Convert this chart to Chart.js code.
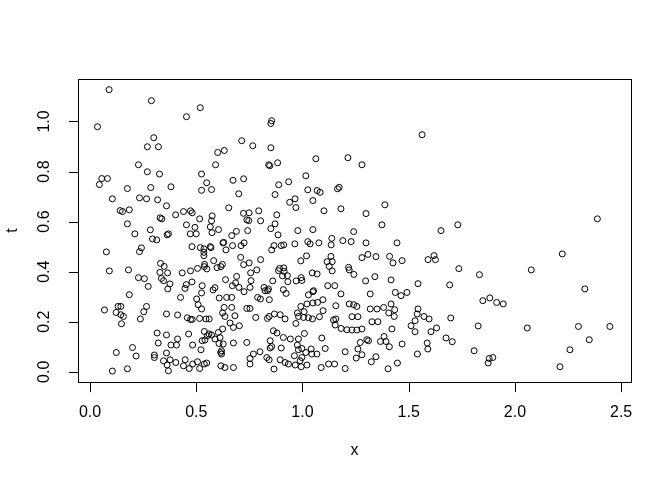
<!DOCTYPE html>
<html>
<head>
<meta charset="utf-8">
<script src="https://cdn.jsdelivr.net/npm/chart.js@4/dist/chart.umd.min.js"></script>
<style>
  html, body { margin: 0; padding: 0; background: #fff; }
  #wrap { width: 672px; height: 480px; }
</style>
</head>
<body>
<div id="wrap"><canvas id="myChart" width="672" height="480"></canvas></div>
<script>
// --- 1. Data ---
const xVals = [
  // upper left
  0.090,0.289,0.519,0.454,0.035,0.300,0.270,0.322,0.601,0.632,0.228,0.270,
  0.327,0.591,0.525,0.549,0.055,0.082,0.044,0.176,0.286,0.381,0.525,0.572,
  // middle left
  0.105,0.233,0.266,0.318,0.360,0.142,0.153,0.185,0.330,0.338,0.403,0.440,
  0.473,0.481,0.516,0.575,0.572,0.176,0.454,0.494,0.566,0.605,0.284,0.211,
  0.363,0.369,0.472,0.500,0.574,0.294,0.314,0.480,0.519,0.536,0.569,0.566,
  0.626,0.536,0.536,0.242,0.233,0.077,0.582,0.539,0.538,0.506,0.550,0.598,
  0.616,0.473,0.434,0.332,0.349,0.329,0.365,0.336,0.091,0.181,0.228,0.256,
  0.274,0.376,0.346,0.453,0.480,0.528,0.588,0.447,0.366,
  // lower left
  0.185,0.426,0.502,0.525,0.579,0.608,0.509,0.525,0.068,0.132,0.145,0.123,
  0.145,0.157,0.148,0.253,0.266,0.237,0.360,0.412,0.458,0.473,0.481,0.516,
  0.546,0.561,0.624,0.316,0.360,0.412,0.464,0.321,0.381,0.407,0.483,0.538,
  0.552,0.560,0.572,0.541,0.528,0.588,0.612,0.604,0.624,0.607,0.200,0.124,
  0.217,0.303,0.303,0.360,0.346,0.377,0.404,0.363,0.369,0.448,0.440,0.467,
  0.483,0.506,0.516,0.538,0.549,0.522,0.615,0.616,0.105,0.176,
  // upper middle
  0.855,0.851,0.714,0.766,0.851,1.063,1.214,1.280,0.841,0.846,
  0.883,1.016,0.673,0.723,0.888,0.935,1.025,1.069,1.165,1.173,
  // middle
  1.083,0.700,0.871,0.940,0.965,0.969,1.049,0.653,1.101,1.181,1.299,0.722,
  0.749,0.794,0.879,0.738,0.747,0.803,0.689,0.667,0.742,0.851,0.871,0.885,
  0.978,1.049,1.241,1.138,1.190,1.229,1.299,0.629,0.640,0.671,0.711,0.725,
  0.855,0.866,0.900,0.912,0.964,1.025,1.036,1.077,1.135,0.709,0.723,0.749,
  0.803,0.785,0.756,0.992,1.019,0.623,0.638,0.690,0.685,0.670,0.701,0.753,
  0.758,0.819,0.840,0.860,0.887,0.892,0.912,0.914,0.906,0.929,0.931,0.970,
  0.997,0.994,1.046,1.069,1.116,1.134,1.140,1.126,1.140,1.217,1.220,1.242,
  1.280,1.308,1.297,1.119,1.152,1.052,
  // right side, upper
  1.563,1.388,1.374,1.652,1.731,1.445,1.346,1.410,1.426,1.469,1.591,1.619,
  1.626,1.736,1.833,1.341,1.417,1.544,1.693,2.388,2.223,2.077,2.329,2.058,
  2.299,2.447,2.350,2.259,2.212,
  // right side, lower
  1.437,1.464,1.492,1.849,1.882,1.914,1.945,1.319,1.319,1.351,1.382,1.417,
  1.406,1.434,1.432,1.544,1.540,1.572,1.596,1.530,1.511,1.530,1.605,1.631,
  1.698,1.827,1.327,1.355,1.421,1.384,1.367,1.393,1.409,1.469,1.311,1.676,
  1.705,1.587,1.590,1.541,1.808,1.346,1.324,1.447,1.403,1.879,1.896,1.874,
  // lower middle
  0.725,0.824,0.836,0.910,0.923,1.028,1.049,1.181,0.643,0.667,0.789,0.802,
  0.844,1.096,1.071,1.049,1.021,0.992,1.220,1.241,1.256,1.157,0.631,0.667,
  0.738,0.753,0.976,1.008,1.097,1.080,1.047,1.028,1.005,0.981,0.868,0.895,
  0.918,0.843,0.835,0.780,0.682,0.635,0.659,0.675,0.703,0.969,1.157,1.146,
  1.154,1.182,1.209,1.233,1.261,1.233,1.256,1.280,1.303,1.272,0.863,0.880,
  0.910,0.943,0.981,1.009,1.091,0.848,0.855,0.848,0.900,0.976,0.981,0.997,
  1.041,1.016,1.107,1.201,1.261,1.280,1.253,0.627,0.675,0.738,0.619,0.619,
  0.753,0.769,0.800,0.753,0.832,0.843,0.866,0.895,0.918,0.934,0.962,0.966,
  0.989,0.997,1.021,0.994,1.044,1.068,1.088,1.123,1.151,1.201,0.635,0.675
];

const tVals = [
  // upper left
  1.127,1.083,1.055,1.019,0.979,0.935,0.899,0.899,0.876,0.884,0.827,0.799,
  0.790,0.827,0.790,0.755,0.772,0.772,0.748,0.732,0.736,0.739,0.725,0.728,
  // middle left
  0.691,0.695,0.691,0.687,0.663,0.644,0.640,0.647,0.615,0.611,0.627,0.640,
  0.643,0.635,0.611,0.623,0.603,0.591,0.587,0.577,0.579,0.568,0.567,0.551,
  0.547,0.551,0.551,0.551,0.556,0.531,0.527,0.500,0.496,0.491,0.496,0.500,
  0.515,0.477,0.464,0.495,0.480,0.479,0.444,0.429,0.420,0.413,0.411,0.416,
  0.420,0.403,0.395,0.433,0.421,0.397,0.395,0.373,0.403,0.407,0.376,0.372,
  0.341,0.351,0.364,0.348,0.359,0.344,0.336,0.333,0.331,
  // lower left
  0.308,0.297,0.291,0.315,0.327,0.295,0.268,0.251,0.247,0.261,0.261,0.237,
  0.228,0.221,0.192,0.240,0.261,0.211,0.231,0.227,0.216,0.209,0.209,0.213,
  0.211,0.211,0.235,0.155,0.147,0.131,0.151,0.115,0.107,0.107,0.107,0.161,
  0.144,0.151,0.147,0.127,0.124,0.131,0.137,0.157,0.171,0.113,0.097,0.077,
  0.063,0.067,0.057,0.075,0.044,0.048,0.037,0.027,0.004,0.048,0.024,0.013,
  0.031,0.040,0.013,0.031,0.035,0.088,0.077,0.024,0.003,0.012,
  // upper middle
  1.003,0.992,0.923,0.903,0.895,0.851,0.855,0.827,0.827,0.823,
  0.835,0.783,0.765,0.771,0.747,0.759,0.727,0.724,0.731,0.737,
  // middle
  0.717,0.711,0.708,0.677,0.691,0.656,0.684,0.655,0.643,0.651,0.632,0.633,
  0.635,0.643,0.627,0.607,0.604,0.603,0.561,0.544,0.564,0.572,0.591,0.547,
  0.564,0.568,0.560,0.533,0.524,0.520,0.515,0.517,0.487,0.504,0.504,0.515,
  0.487,0.504,0.504,0.507,0.511,0.520,0.511,0.515,0.507,0.457,0.428,0.435,
  0.448,0.407,0.395,0.443,0.463,0.429,0.368,0.381,0.355,0.344,0.337,0.337,
  0.364,0.337,0.331,0.363,0.404,0.413,0.415,0.401,0.383,0.384,0.360,0.363,
  0.365,0.376,0.395,0.391,0.440,0.461,0.440,0.421,0.403,0.417,0.407,0.389,
  0.456,0.469,0.363,0.344,0.344,0.324,
  // right side, upper
  0.947,0.667,0.587,0.564,0.587,0.515,0.460,0.461,0.435,0.444,0.448,0.464,
  0.448,0.412,0.388,0.380,0.367,0.352,0.347,0.611,0.471,0.407,0.331,0.175,
  0.181,0.181,0.128,0.088,0.020,
  // right side, lower
  0.317,0.304,0.317,0.284,0.295,0.277,0.271,0.311,0.251,0.251,0.257,0.271,
  0.235,0.248,0.221,0.251,0.231,0.221,0.211,0.204,0.184,0.160,0.160,0.175,
  0.215,0.183,0.200,0.200,0.171,0.141,0.121,0.121,0.100,0.111,0.124,0.135,
  0.120,0.115,0.091,0.071,0.084,0.060,0.040,0.035,0.012,0.053,0.057,0.035,
  // lower middle
  0.320,0.324,0.324,0.328,0.313,0.307,0.320,0.311,0.297,0.297,0.297,0.291,
  0.288,0.288,0.277,0.275,0.271,0.261,0.271,0.268,0.261,0.264,0.257,0.257,
  0.253,0.253,0.235,0.240,0.244,0.220,0.211,0.216,0.217,0.221,0.231,0.228,
  0.211,0.221,0.213,0.217,0.224,0.221,0.195,0.177,0.184,0.193,0.211,0.207,
  0.187,0.173,0.168,0.220,0.220,0.167,0.167,0.171,0.128,0.117,0.164,0.155,
  0.137,0.131,0.131,0.153,0.135,0.124,0.101,0.095,0.095,0.107,0.088,0.093,
  0.091,0.077,0.093,0.080,0.091,0.068,0.055,0.111,0.115,0.117,0.084,0.071,
  0.053,0.071,0.080,0.031,0.057,0.048,0.011,0.048,0.037,0.031,0.064,0.027,
  0.044,0.057,0.027,0.020,0.071,0.071,0.017,0.031,0.031,0.013,0.017,0.017
];

const xTicks = [0, 0.5, 1.0, 1.5, 2.0, 2.5];
const tTicks = [0, 0.2, 0.4, 0.6, 0.8, 1.0];
const xTitle = 'x';
const yTitle = 't';

// --- 2. R-like look ---
const LINE = 19.2;           // one margin line in px (12pt @ 96dpi)
const FONT = '16px "Liberation Sans", Arial, sans-serif';

// frame, ticks, labels drawn like base R graphics
const rAxes = {
  id: 'rAxes',
  afterDraw(chart) {
    const ctx = chart.ctx;
    const area = chart.chartArea;
    const xs = chart.scales.x;
    const ys = chart.scales.y;
    ctx.save();
    ctx.strokeStyle = '#000';
    ctx.fillStyle = '#000';
    ctx.lineWidth = 1;

    // box
    ctx.strokeRect(Math.round(area.left) + 0.5, Math.round(area.top) + 0.5,
                   Math.round(area.right - area.left), Math.round(area.bottom - area.top));

    const bottom = Math.round(area.bottom) + 0.5;
    const left = Math.round(area.left) + 0.5;

    // x axis
    ctx.beginPath();
    xTicks.forEach(v => {
      const px = Math.round(xs.getPixelForValue(v)) + 0.5;
      ctx.moveTo(px, bottom);
      ctx.lineTo(px, bottom + LINE * 0.5);
    });
    ctx.stroke();
    ctx.font = FONT;
    ctx.textAlign = 'center';
    ctx.textBaseline = 'alphabetic';
    xTicks.forEach(v => {
      ctx.fillText(v.toFixed(1), xs.getPixelForValue(v), area.bottom + LINE * 1.8);
    });

    // y axis
    ctx.beginPath();
    tTicks.forEach(v => {
      const py = Math.round(ys.getPixelForValue(v)) + 0.5;
      ctx.moveTo(left, py);
      ctx.lineTo(left - LINE * 0.5, py);
    });
    ctx.stroke();
    tTicks.forEach(v => {
      ctx.save();
      ctx.translate(area.left - 29, ys.getPixelForValue(v));
      ctx.rotate(-Math.PI / 2);
      ctx.fillText(v.toFixed(1), 0, 0);
      ctx.restore();
    });

    // axis titles
    ctx.fillText(xTitle, (area.left + area.right) / 2, area.bottom + LINE * 3.8);
    ctx.save();
    ctx.translate(area.left - LINE * 3.2, (area.top + area.bottom) / 2);
    ctx.rotate(-Math.PI / 2);
    ctx.fillText(yTitle, 0, 0);
    ctx.restore();

    ctx.restore();
  }
};

// --- 3. Chart ---
window.onload = function() {
  const ctx = document.getElementById('myChart').getContext('2d');
  const pts = xVals.map((x, i) => ({ x: x, y: tVals[i] }));

  new Chart(ctx, {
    type: 'scatter',
    data: {
      datasets: [{
        data: pts,
        pointStyle: 'circle',
        pointRadius: 3,
        pointHoverRadius: 3,
        borderWidth: 1,
        borderColor: '#000',
        backgroundColor: 'rgba(0,0,0,0)'
      }]
    },
    options: {
      responsive: false,
      animation: false,
      events: [],
      layout: { padding: { left: 78, right: 41, top: 79, bottom: 98 } },
      plugins: { legend: { display: false }, tooltip: { enabled: false } },
      scales: {
        x: { type: 'linear', min: -0.0566, max: 2.5464, display: false },
        y: { type: 'linear', min: -0.0408, max: 1.1696, display: false }
      }
    },
    plugins: [rAxes]
  });
};
</script>
</body>
</html>
